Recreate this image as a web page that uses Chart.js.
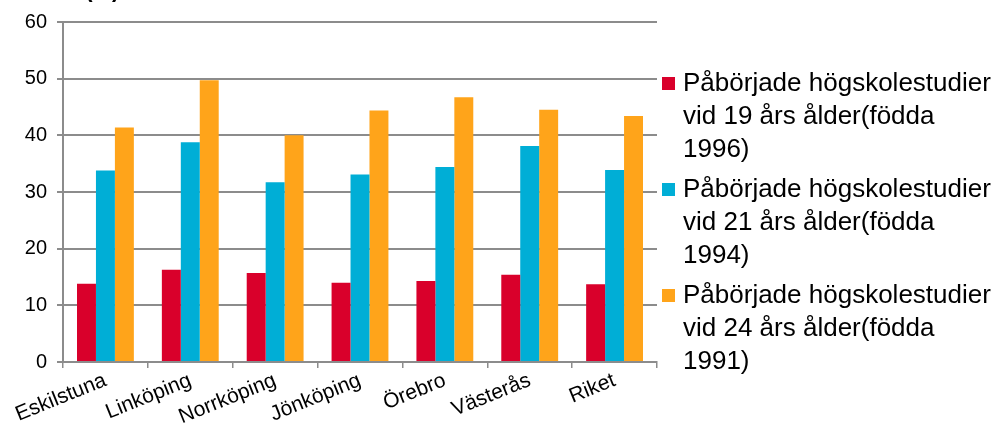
<!DOCTYPE html>
<html>
<head>
<meta charset="utf-8">
<script src="https://cdn.jsdelivr.net/npm/chart.js@4"></script>
<style>
  body { margin: 0; background: #fff; font-family: "Liberation Sans", Arial, sans-serif; }
  #wrap { position: relative; width: 998px; height: 423px; overflow: hidden; }
  #rubrik { position: absolute; left: 18px; top: -23px; font-size: 22px; font-weight: bold; color: #000; }
  #legend { position: absolute; left: 662px; top: 66px; width: 336px; }
  .item { position: relative; padding-left: 21px; font-size: 26px; line-height: 33px; color: #000; margin-bottom: 7px; white-space: nowrap; }
  .box { position: absolute; left: 0; top: 11px; width: 13px; height: 13px; }
</style>
</head>
<body>
<div id="wrap">
  <canvas id="grafico" width="998" height="423"></canvas>
  <div id="rubrik">Andel (%)</div>
  <div id="legend"></div>
</div>
<script>
// kategorier och serier
const orter = ["Eskilstuna", "Linköping", "Norrköping", "Jönköping", "Örebro", "Västerås", "Riket"];
const serieNamn = [
  ["Påbörjade högskolestudier", "vid 19 års ålder(födda", "1996)"],
  ["Påbörjade högskolestudier", "vid 21 års ålder(födda", "1994)"],
  ["Påbörjade högskolestudier", "vid 24 års ålder(födda", "1991)"]
];
const alder19 = [13.8, 16.3, 15.7, 14.0, 14.3, 15.4, 13.7];
const alder21 = [33.8, 38.8, 31.7, 33.1, 34.4, 38.1, 33.9];
const alder24 = [41.4, 49.7, 40.0, 44.4, 46.7, 44.5, 43.4];
const farger = ["#D9002B", "#00AED6", "#FFA41A"];
const yTicks = [0, 10, 20, 30, 40, 50, 60];

const ctx = document.getElementById("grafico").getContext("2d");
const chart = new Chart(ctx, {
  type: "bar",
  data: {
    labels: orter,
    datasets: [alder19, alder21, alder24].map((d, i) => ({
      label: serieNamn[i].join(" "),
      data: d,
      backgroundColor: farger[i],
      borderWidth: 0,
      categoryPercentage: 0.67,
      barPercentage: 1.0
    }))
  },
  options: {
    responsive: false,
    animation: false,
    layout: { padding: { top: 20, right: 341, left: 0, bottom: 0 } },
    plugins: { legend: { display: false }, tooltip: { enabled: false } },
    scales: {
      x: {
        grid: { drawOnChartArea: false, drawTicks: true, tickLength: 6, color: "#8c8c8c", lineWidth: 1.5 },
        border: { color: "#8c8c8c", width: 2 },
        ticks: {
          color: "#000", font: { family: "Liberation Sans, Arial", size: 21 },
          minRotation: 22, maxRotation: 22, padding: 0
        },
        afterFit: (axis) => { axis.height = 61; }
      },
      y: {
        min: 0, max: 60,
        afterBuildTicks: (axis) => { axis.ticks = yTicks.map(v => ({ value: v })); },
        grid: { color: "#8c8c8c", lineWidth: 2, tickLength: 6 },
        border: { color: "#8c8c8c", width: 2 },
        ticks: { color: "#000", font: { family: "Liberation Sans, Arial", size: 20 }, padding: 10 },
        afterFit: (axis) => { axis.width = 63; }
      }
    }
  }
});

// egen förklaring till höger
const legend = document.getElementById("legend");
chart.data.datasets.forEach((ds, i) => {
  const div = document.createElement("div");
  div.className = "item";
  const box = document.createElement("span");
  box.className = "box";
  box.style.background = ds.backgroundColor;
  div.appendChild(box);
  serieNamn[i].forEach((rad, j) => {
    if (j > 0) div.appendChild(document.createElement("br"));
    div.appendChild(document.createTextNode(rad));
  });
  legend.appendChild(div);
});
</script>
</body>
</html>
